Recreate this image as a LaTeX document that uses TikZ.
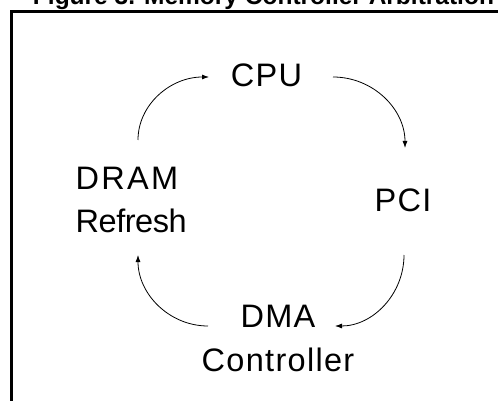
\documentclass[tikz,border=0pt]{standalone}
\usepackage{fontspec}
\setmainfont{Liberation Sans}
\newfontfamily\lblfont[LetterSpace=4]{Liberation Sans}
\newfontfamily\lblwide[LetterSpace=7]{Liberation Sans}
\newfontfamily\lbltight[LetterSpace=-1.5]{Liberation Sans}
\usetikzlibrary{arrows.meta}
\begin{document}
\begin{tikzpicture}[x=1pt,y=-1pt,
  lbl/.style={font=\lblfont\fontsize{32.5}{43.5}\selectfont, inner sep=0pt, align=center},
  arr/.style={line width=0.8pt, -{Latex[length=7pt,width=5pt]}},
  frameline/.style={line width=3pt}]
\useasboundingbox (0,0) rectangle (498,401);
\node[font=\bfseries\fontsize{24.5}{28}\selectfont, inner sep=0pt, anchor=base] (title) at (263.5,5) {Figure 3. Memory Controller Arbitration};
\draw[frameline] (11.5,430) -- (11.5,11.5) -- (530,11.5);
\node[lbl] (cpu) at (266.5,75) {CPU};
\node[lbl] (pci) at (403,200) {PCI};
\node[lbl] (dma) at (278,338.5) {DMA\\Controller};
\node[lbl, align=left, anchor=west] (dram) at (75.5,200) {{\lblwide DRAM}\\{\lbltight Refresh}};
\draw[arr] ([shift={(62.5,-60)}]dram.west) .. controls +(0,-35) and +(-39,0) .. ([shift={(-57.5,2)}]cpu.center);
\draw[arr] ([shift={(66.5,2)}]cpu.center) .. controls +(40,0) and +(0,-39) .. ([shift={(2,-52)}]pci.center);
\draw[arr] ([shift={(1,55)}]pci.center) .. controls +(0,39) and +(38,0) .. ([shift={(57,-12.5)}]dma.center);
\draw[arr] ([shift={(-70,-12.5)}]dma.center) .. controls +(-38.7,0) and +(0,39) .. ([shift={(62.5,55)}]dram.west);
\end{tikzpicture}
\end{document}
